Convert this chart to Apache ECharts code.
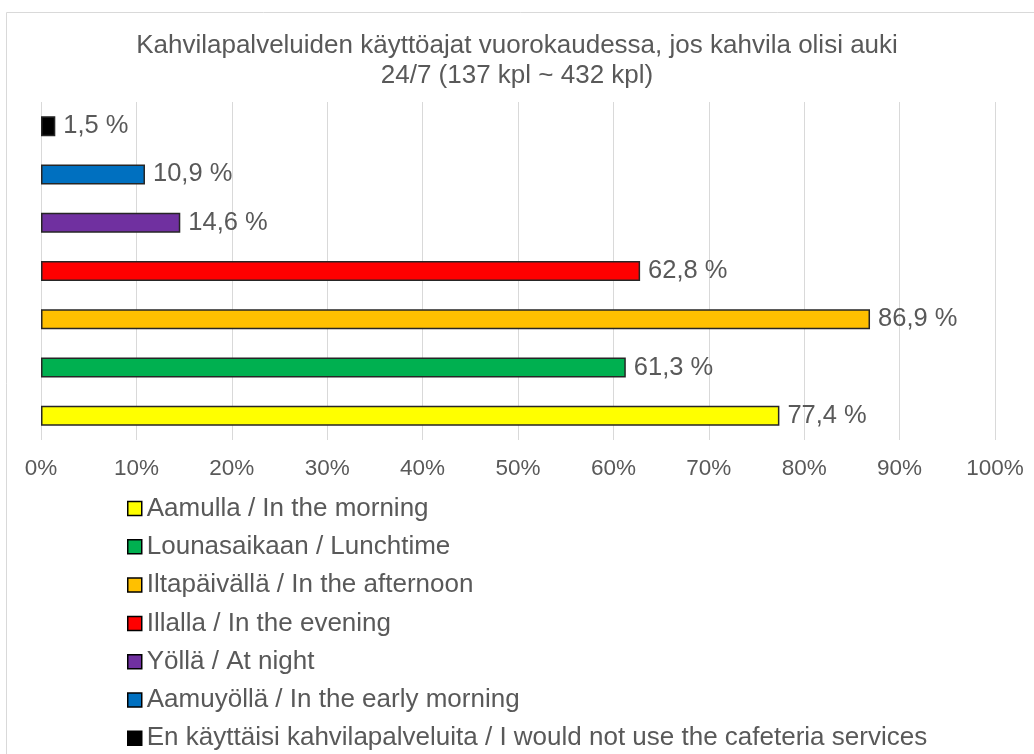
<!DOCTYPE html>
<html>
<head>
<meta charset="utf-8">
<script src="https://cdn.jsdelivr.net/npm/echarts@6/dist/echarts.min.js"></script>
<style>
  html, body { margin: 0; padding: 0; background: #fff; }
  #chart { width: 1034px; height: 754px; }
</style>
</head>
<body>
<div id="chart"></div>
<script>
// 数据
const categories = [
    'Aamulla / In the morning',
    'Lounasaikaan / Lunchtime',
    'Iltapäivällä / In the afternoon',
    'Illalla / In the evening',
    'Yöllä / At night',
    'Aamuyöllä / In the early morning',
    'En käyttäisi kahvilapalveluita / I would not use the cafeteria services'
];
const values = [77.4, 61.3, 86.9, 62.8, 14.6, 10.9, 1.5];
const colors = ['#FFFF00', '#00B050', '#FFC000', '#FF0000', '#7030A0', '#0070C0', '#000000'];
const xTicks = [0, 10, 20, 30, 40, 50, 60, 70, 80, 90, 100];

const font = 'Liberation Sans, Arial, sans-serif';
const textColor = '#595959';

const myChart = echarts.init(document.getElementById('chart'));

// 每个类别一个系列，这样图例才有对应颜色
const series = categories.map((name, i) => ({
    name: name,
    type: 'bar',
    barWidth: 20,
    barGap: '-100%',
    data: categories.map((c, j) => (j === i ? values[i] : '-')),
    itemStyle: {color: colors[i], borderColor: '#262626', borderWidth: 1.5},
    label: {
        show: true,
        position: 'right',
        distance: 8,
        fontFamily: font,
        fontSize: 25.5,
        color: textColor,
        formatter: p => p.value.toFixed(1).replace('.', ',') + ' %'
    },
    animation: false
}));

myChart.setOption({
    textStyle: {fontFamily: font},
    title: {
        text: 'Kahvilapalveluiden käyttöajat vuorokaudessa, jos kahvila olisi auki\n24/7 (137 kpl ~ 432 kpl)',
        left: 'center',
        top: 31,
        padding: 0,
        textStyle: {fontFamily: font, fontSize: 26, lineHeight: 30, fontWeight: 'normal', color: textColor}
    },
    graphic: [{
        type: 'rect',
        shape: {x: 6.5, y: 12.5, width: 1100, height: 800},
        style: {fill: 'none', stroke: '#d9d9d9', lineWidth: 1},
        silent: true
    }],
    grid: {left: 41, right: 39, top: 102, height: 338},
    legend: {
        orient: 'vertical',
        left: 127,
        top: 495.5,
        height: 257,
        padding: 0,
        itemWidth: 14,
        itemHeight: 14,
        itemGap: 12.3,
        icon: 'rect',
        itemStyle: {borderColor: '#000', borderWidth: 1.5},
        textStyle: {fontFamily: font, fontSize: 26, color: textColor},
        data: categories
    },
    xAxis: {
        type: 'value',
        min: xTicks[0],
        max: xTicks[xTicks.length - 1],
        interval: 10,
        axisLabel: {fontFamily: font, fontSize: 22.5, color: textColor, margin: 17, formatter: '{value}%'},
        axisLine: {show: false},
        axisTick: {show: false},
        splitLine: {lineStyle: {color: '#d9d9d9', width: 1}}
    },
    yAxis: {
        type: 'category',
        data: categories,
        axisLabel: {show: false},
        axisLine: {show: false},
        axisTick: {show: false}
    },
    series: series
});
</script>
</body>
</html>
